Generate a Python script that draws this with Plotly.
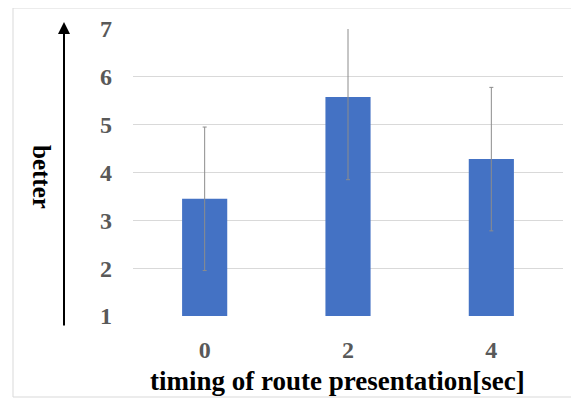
import plotly.graph_objects as go

categories = ["0", "2", "4"]
means = [3.45, 5.58, 4.28]
errors = [1.5, 1.73, 1.5]
y_ticks = [1, 2, 3, 4, 5, 6, 7]

# page has an 8px body margin; figure coordinates are page coordinates minus 8
OFF = 8
L, R, T, B = 133 - OFF, 563 - OFF, 29 - OFF, 316 - OFF
W, H = 579 - OFF, 400 - OFF
PW, PH = R - L, B - T


def px(x):
    return (x - OFF - L) / PW


def py(y):
    return (B - (y - OFF)) / PH


fig = go.Figure()
fig.add_trace(go.Bar(
    x=categories, y=[m - 1 for m in means], base=1,
    marker=dict(color="#4472C4", line=dict(width=0)),
    width=0.315,
    error_y=dict(type="data", array=errors, color="#8c8c8c", thickness=1, width=2),
))

font_family = "Liberation Serif, Times New Roman, serif"
fig.update_layout(
    width=W, height=H,
    margin=dict(l=L, r=W - R, t=T, b=H - B, autoexpand=False),
    paper_bgcolor="white", plot_bgcolor="white",
    showlegend=False,
    font=dict(family=font_family),
    xaxis=dict(
        type="category",
        tickfont=dict(family=font_family, size=24, color="#595959", weight="bold"),
        ticklabelstandoff=17,
        showgrid=False, showline=False, zeroline=False,
    ),
    yaxis=dict(
        range=[1, 7], tickvals=y_ticks,
        tickfont=dict(family=font_family, size=24, color="#595959", weight="bold"),
        ticklabelstandoff=20,
        showgrid=True, gridcolor="#d9d9d9", gridwidth=1,
        zeroline=False, showline=False,
    ),
    shapes=[dict(type="rect", xref="paper", yref="paper",
                 x0=px(13), x1=px(576), y0=py(397), y1=py(8),
                 line=dict(color="#d9d9d9", width=1), layer="below")],
    annotations=[
        dict(xref="paper", yref="paper", x=px(64), y=py(22),
             ax=0, ay=305, showarrow=True, arrowhead=2, arrowsize=1.2,
             arrowwidth=2, arrowcolor="black", text=""),
        dict(xref="paper", yref="paper", x=px(42), y=py(177),
             text="better", textangle=90, showarrow=False,
             xanchor="center", yanchor="middle",
             font=dict(family=font_family, size=25, color="black", weight="bold")),
        dict(xref="paper", yref="paper", x=px(337), y=py(381),
             text="timing of route presentation[sec]", showarrow=False,
             xanchor="center", yanchor="middle",
             font=dict(family=font_family, size=27, color="black", weight="bold")),
    ],
)
fig.write_html("out.html")
